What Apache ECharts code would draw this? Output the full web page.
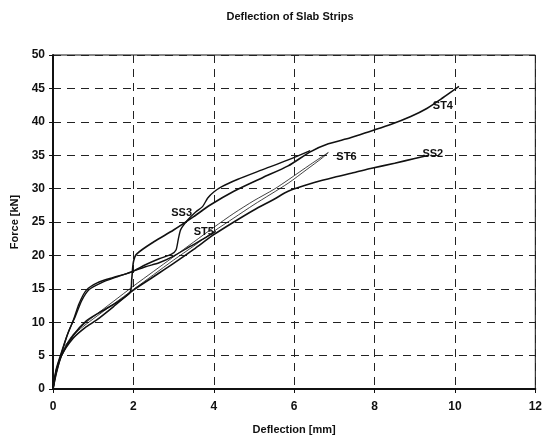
<!DOCTYPE html>
<html>
<head>
<meta charset="utf-8">
<script src="https://cdn.jsdelivr.net/npm/echarts@6/dist/echarts.min.js"></script>
<style>html,body{margin:0;padding:0;background:#fff;}#c{width:545px;height:440px;}</style>
</head>
<body>
<div id="c"></div>
<script>
// Deflection [mm], Force [kN]
const ST4 = [[0,0],[0.08,2.5],[0.21,5],[0.5,8],[0.83,10.2],[1.2,11.6],[1.6,13],[1.92,14.5],[1.96,16.5],[2.0,19],[2.08,20.2],[2.5,22],[3.0,23.8],[3.5,25.8],[3.9,27.5],[4.5,29.6],[5.2,31.6],[5.85,33.4],[6.4,35.5],[6.85,36.7],[7.4,37.6],[7.9,38.6],[8.4,39.6],[8.9,40.8],[9.3,42],[9.7,43.6],[10.1,45.3]];
const SS3 = [[0,0],[0.08,3],[0.21,5.5],[0.35,8],[0.5,10.2],[0.65,12.8],[0.83,14.8],[1.1,15.9],[1.5,16.7],[1.94,17.5],[2.3,18.6],[2.64,19.5],[2.95,20.2],[3.06,20.8],[3.12,22.5],[3.18,23.9],[3.35,25.3],[3.55,26.5],[3.72,27.3],[3.85,28.6],[4.0,29.5],[4.2,30.3],[4.6,31.4],[5.2,32.8],[5.85,34.3],[6.4,35.7]];
const ST5 = [[0,0],[0.08,2.8],[0.21,5.3],[0.38,8.5],[0.55,10.8],[0.72,13.3],[0.9,14.9],[1.2,15.9],[1.6,16.8],[1.94,17.5],[2.3,18.3],[2.64,18.9],[3.0,19.9],[3.4,21.3],[3.75,22.5],[4.05,23.6]];
const SS2 = [[0,0],[0.08,2.3],[0.21,5],[0.5,7.6],[0.8,9.2],[1.08,10.3],[1.5,12.3],[2.0,14.8],[2.5,16.8],[3.0,18.8],[3.5,20.9],[4.0,23.1],[4.5,25],[5.0,26.8],[5.5,28.4],[5.85,29.6],[6.5,30.9],[7.0,31.7],[7.5,32.4],[7.9,33],[8.5,33.8],[9.0,34.5],[9.35,35]];
const ST6 = [[0,0],[0.08,2.6],[0.21,5.2],[0.45,7.8],[0.75,9.6],[1.0,10.8],[1.5,13.1],[2.0,15.4],[2.5,17.6],[3.0,19.8],[3.5,22],[4.0,24.2],[4.5,26.3],[5.0,28.2],[5.5,29.9],[5.85,31.3],[6.4,33.6],[6.85,35.4],[6.7,34.6],[6.3,32.8],[5.85,30.8],[5.0,27.6],[4.5,25.6],[4.0,23.6],[3.5,21.4],[3.0,19.3],[2.5,17.1],[2.0,14.9],[1.5,12.7],[1.0,10.5],[0.6,8.6],[0.3,6.5]];

const seriesNames = ['ST4','SS3','ST5','SS2','ST6'];
const seriesData = [ST4, SS3, ST5, SS2, ST6];
const lineWidths = [1.6, 1.4, 1.4, 1.6, 0.8];
// label anchor positions [x, y] in data units
const labelAnchors = [[9.7,42.3],[3.2,26.4],[3.75,23.5],[9.45,35.2],[7.3,34.7]];

const xTicks = [0,2,4,6,8,10,12];
const yTicks = [0,5,10,15,20,25,30,35,40,45,50];

const chart = echarts.init(document.getElementById('c'), null, {renderer:'canvas'});
const FONT = 'Liberation Sans';

const series = seriesNames.map((n,i)=>({
  name:n, type:'line', data:seriesData[i], showSymbol:false, symbol:'none',
  smooth:0.25, clip:true,
  lineStyle:{color:'#111', width:lineWidths[i]},
  markPoint:{
    symbol:'circle', symbolSize:0, silent:true,
    data:[{coord:labelAnchors[i], value:n}],
    label:{show:true, formatter:n, color:'#111', fontFamily:FONT, fontWeight:'bold', fontSize:11, position:'inside'}
  }
}));

chart.setOption({
  animation:false,
  backgroundColor:'#fff',
  title:{text:'Deflection of Slab Strips', left:285, textAlign:'center', top:6,
    textStyle:{fontFamily:FONT, fontWeight:'bold', fontSize:11, color:'#111'}},
  grid:{left:53, right:6, top:55, bottom:50, show:true, borderColor:'#111', borderWidth:1},
  xAxis:{type:'value', min:xTicks[0], max:xTicks[xTicks.length-1], interval:2,
    name:'Deflection [mm]', nameLocation:'middle', nameGap:35,
    nameTextStyle:{fontFamily:FONT, fontWeight:'bold', fontSize:11, color:'#111'},
    axisLine:{show:true, lineStyle:{color:'#111', width:2}},
    axisTick:{show:true, inside:false, length:4, lineStyle:{color:'#111'}},
    axisLabel:{fontFamily:FONT, fontWeight:'bold', fontSize:12, color:'#111', margin:12},
    splitLine:{show:true, lineStyle:{color:'#222', width:1, type:[8,6]}}},
  yAxis:{type:'value', min:yTicks[0], max:yTicks[yTicks.length-1], interval:5,
    name:'Force [kN]', nameLocation:'middle', nameGap:30, nameRotate:90,
    nameTextStyle:{fontFamily:FONT, fontWeight:'bold', fontSize:11, color:'#111'},
    axisLine:{show:true, lineStyle:{color:'#111', width:2}},
    axisTick:{show:true, inside:false, length:4, lineStyle:{color:'#111'}},
    axisLabel:{fontFamily:FONT, fontWeight:'bold', fontSize:12, color:'#111', margin:8},
    splitLine:{show:true, lineStyle:{color:'#222', width:1, type:[8,6]}}},
  series: series
});
</script>
</body>
</html>
